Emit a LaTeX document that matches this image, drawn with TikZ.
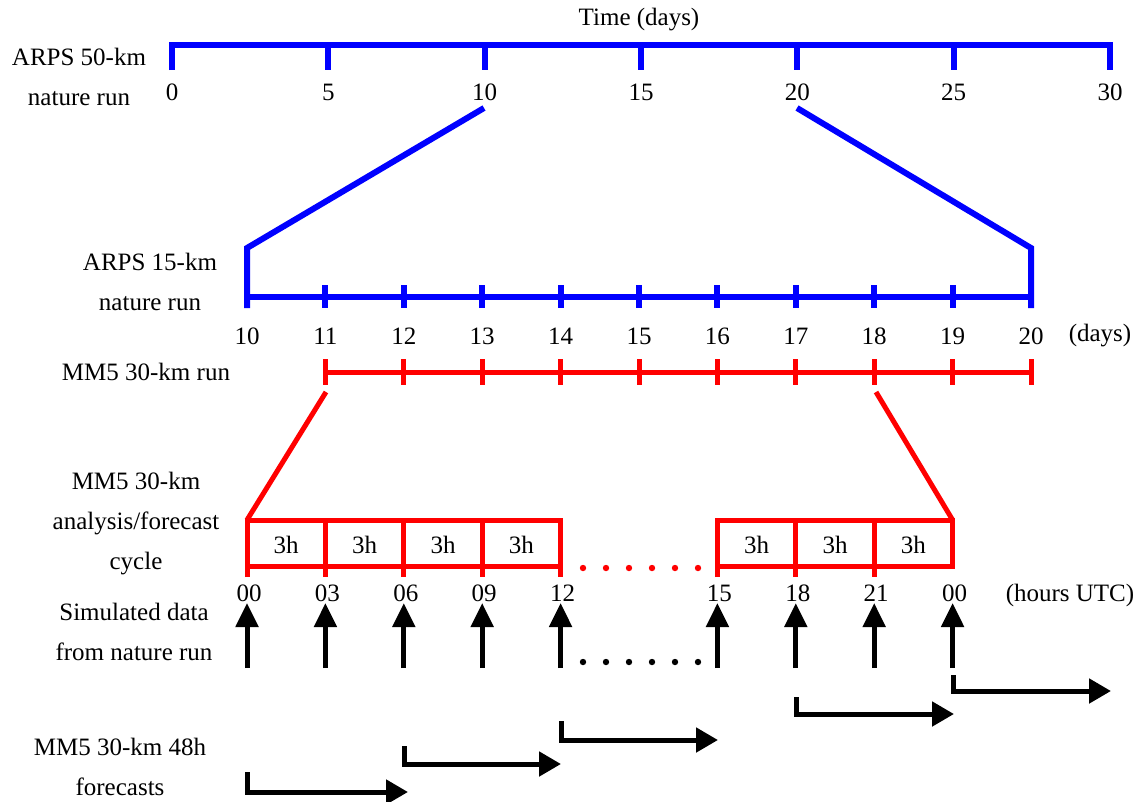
\documentclass[tikz,border=0pt]{standalone}
\usepackage{fontspec}
\setmainfont{Liberation Serif}
\usetikzlibrary{arrows.meta}
\begin{document}
\begin{tikzpicture}[x=1pt,y=-1pt,
  lbl/.style={font=\fontsize{25}{40}\selectfont, inner sep=0pt, align=center},
  bl/.style={draw={rgb,255:red,0;green,0;blue,255}, line width=6pt},
  rd/.style={draw=red, line width=5pt},
  up/.style={line width=5pt, -{Triangle[length=24pt,width=22pt]}},
  fc/.style={line width=5pt, -{Triangle[length=22pt,width=24pt]}},
  dotr/.style={fill=red, draw=none},
  dotk/.style={fill=black, draw=none},
]
\useasboundingbox (0,0) rectangle (1142,801);

% ---- top axis: ARPS 50-km
\node[lbl] (title) at (639,20) {Time (days)};
\node[lbl] (l50) at (79,77) {ARPS 50-km\\nature run};
\foreach \d in {0,5,...,30} {
  \coordinate (A\d) at ({172+\d*31.2667},45);
  \coordinate (A\d e) at ({172+\d*31.2667},70);
  \node[lbl] (a\d) at ({172+\d*31.2667},92) {\d};
}
\draw[bl] (A0e) -- (A0) -- (A30) -- (A30e);
\foreach \d in {5,10,...,25} \draw[bl] (A\d) -- (A\d e);

% ---- zoom lines to 15-km
\coordinate (z1) at (484,108);
\coordinate (z2) at (797,108);
\coordinate (z3) at (247,248);
\coordinate (z4) at (1031,248);

% ---- middle axis: ARPS 15-km
\node[lbl] (l15) at (150,282) {ARPS 15-km\\nature run};
\foreach \d in {10,...,20} {
  \coordinate (B\d) at ({247+(\d-10)*78.4},297);
  \coordinate (B\d t) at ({247+(\d-10)*78.4},285);
  \coordinate (B\d b) at ({247+(\d-10)*78.4},308);
  \node[lbl] (b\d) at ({247+(\d-10)*78.4},336) {\d};
}
\node[lbl] (days) at (1100,336) {(days)};
\draw[bl] (z1) -- (z3) -- (B10b);
\draw[bl] (z2) -- (z4) -- (B20b);
\draw[bl] (B10) -- (B20);
\foreach \d in {11,...,19} \draw[bl] (B\d t) -- (B\d b);

% ---- MM5 30-km run
\node[lbl] (lmm) at (146,372) {MM5 30-km run};
\foreach \d in {11,...,20} {
  \coordinate (C\d) at ({247+(\d-10)*78.4},372);
  \coordinate (C\d t) at ({247+(\d-10)*78.4},359);
  \coordinate (C\d b) at ({247+(\d-10)*78.4},385);
}
\draw[rd] (C11) -- (C20);
\foreach \d in {11,...,20} \draw[rd] (C\d t) -- (C\d b);

% ---- zoom lines to cycle
\coordinate (r1) at (326,392);
\coordinate (r2) at (876,392);

% ---- cycle boxes
\node[lbl] (lcyc) at (136,524) {MM5 30-km\\analysis/forecast\\cycle};
\foreach \i/\x in {0/247,1/325.4,2/403.8,3/482.2,4/560.6,5/717.4,6/795.8,7/874.2,8/952.6} {
  \coordinate (H\i t) at (\x,520);
  \coordinate (H\i m) at (\x,566);
  \coordinate (H\i b) at (\x,577);
  \coordinate (U\i a) at (\x,668);
  \coordinate (U\i b) at (\x,603);
}
\draw[rd] (r1) -- (H0t);
\draw[rd] (r2) -- (H8t);
\draw[rd] (H0b) -- (H0t) -- (H4t) -- (H4b);
\draw[rd] (H0m) -- (H4m);
\foreach \i in {1,2,3} \draw[rd] (H\i t) -- (H\i b);
\draw[rd] (H5b) -- (H5t) -- (H8t) -- (H8m) -- (H5m);
\foreach \i in {6,7} \draw[rd] (H\i t) -- (H\i b);
\foreach \x in {286.2,364.6,443,521.4,756.6,835,913.4} \node[lbl] at (\x,545) {3h};
\foreach \k in {0,...,5} {
  \fill[dotr] ({583+\k*23},568) circle (3.2);
  \fill[dotk] ({583+\k*23},662) circle (3.2);
}

% ---- hour labels
\foreach \i/\t in {0/00,1/03,2/06,3/09,4/12,5/15,6/18,7/21,8/00} {
  \path (H\i m) ++(2,27) node[lbl] (h\i) {\t};
}
\node[lbl] (utc) at (1070,595) {(hours UTC)};

% ---- simulated data arrows
\node[lbl] (lsim) at (134,632) {Simulated data\\from nature run};
\foreach \i in {0,...,8} \draw[up] (U\i a) -- (U\i b);

% ---- 48h forecasts
\node[lbl] (lfc) at (120,767) {MM5 30-km 48h\\forecasts};
\coordinate (f1a) at (247,772); \coordinate (f1b) at (247,792); \coordinate (f1c) at (408,792);
\coordinate (f2a) at (404,746); \coordinate (f2b) at (404,764); \coordinate (f2c) at (561,764);
\coordinate (f3a) at (561,721); \coordinate (f3b) at (561,740); \coordinate (f3c) at (718,740);
\coordinate (f4a) at (796,697); \coordinate (f4b) at (796,714); \coordinate (f4c) at (954,714);
\coordinate (f5a) at (953,675); \coordinate (f5b) at (953,691); \coordinate (f5c) at (1111,691);
\foreach \j in {1,...,5} \draw[fc] (f\j a) -- (f\j b) -- (f\j c);
\end{tikzpicture}
\end{document}
